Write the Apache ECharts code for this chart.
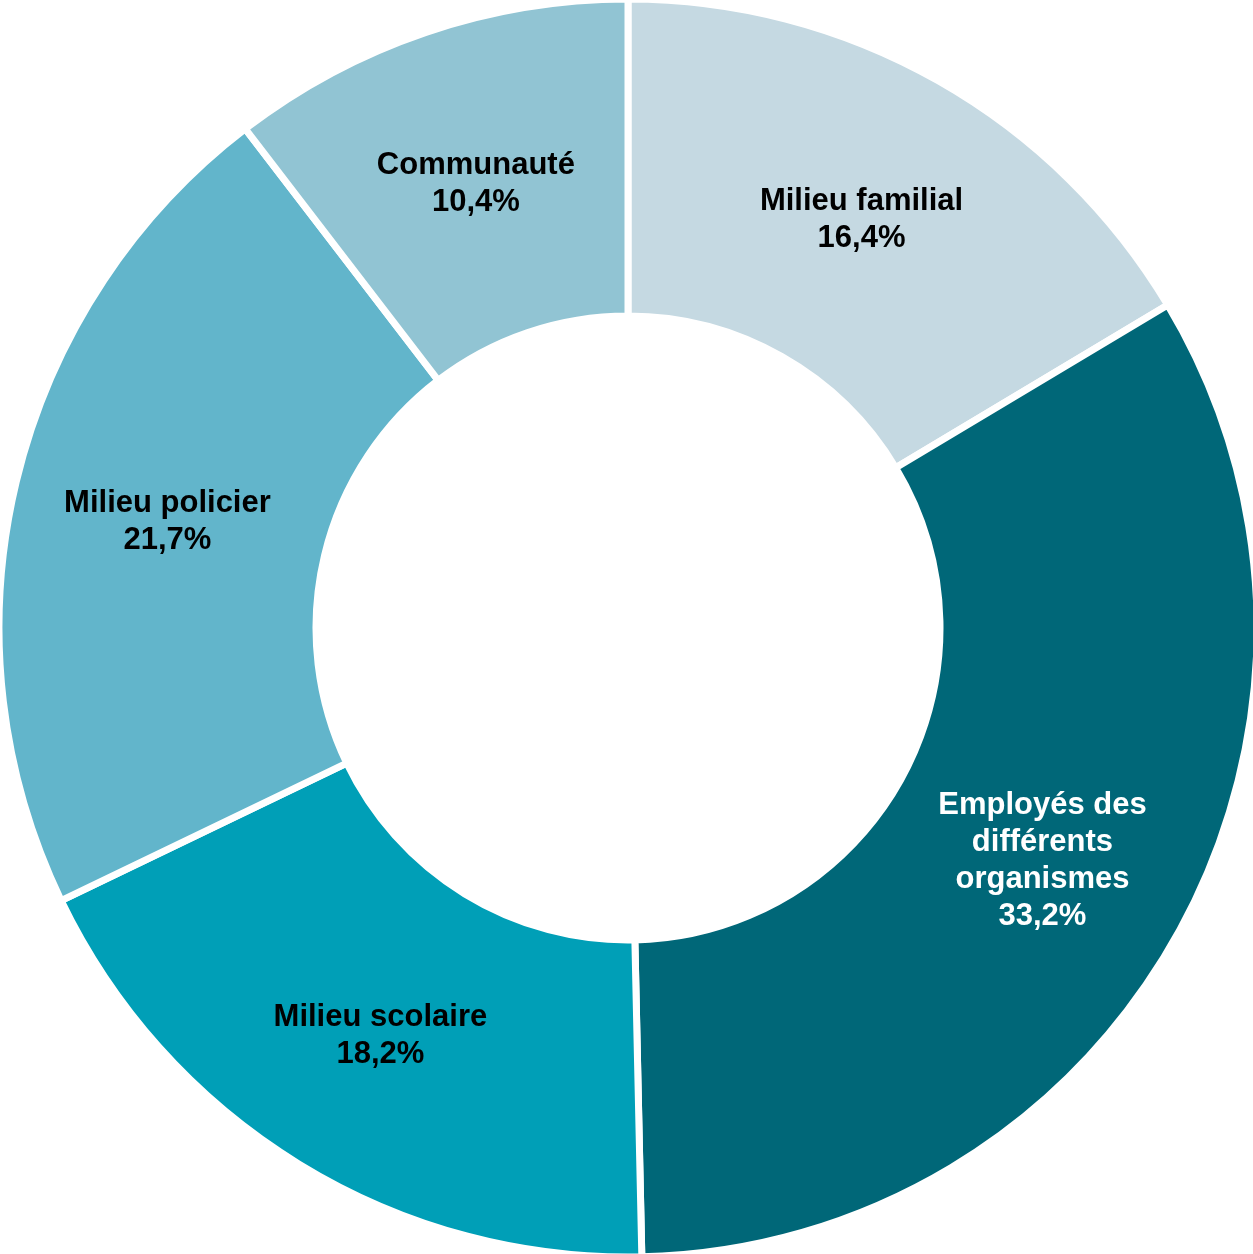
<!DOCTYPE html>
<html>
<head>
<meta charset="utf-8">
<script src="https://cdn.jsdelivr.net/npm/echarts@6/dist/echarts.min.js"></script>
<style>
html, body { margin: 0; padding: 0; background: #fff; }
#main { width: 1253px; height: 1254px; }
</style>
</head>
<body>
<div id="main"></div>
<script>
var categories = ['Milieu familial', 'Employés des\ndifférents\norganismes', 'Milieu scolaire', 'Milieu policier', 'Communauté'];
var values = [16.4, 33.2, 18.2, 21.7, 10.4];
var colors = ['#C5D9E2', '#006778', '#009FB7', '#62B5CB', '#91C4D3'];
var labelColors = ['#000', '#fff', '#000', '#000', '#000'];

var dom = document.getElementById("main");
var myChart = echarts.init(dom);

var pieData = categories.map(function (name, i) {
    return {
        name: name,
        value: values[i],
        itemStyle: { color: colors[i] },
        label: { color: labelColors[i] }
    };
});

var option = {
    animation: false,
    series: [
        {
            type: 'pie',
            center: [628, 628],
            radius: [312, 629],
            startAngle: 90,
            clockwise: true,
            avoidLabelOverlap: false,
            itemStyle: { borderColor: '#fff', borderWidth: 7 },
            label: {
                show: true,
                position: 'inside',
                offset: [0, 4],
                fontFamily: 'Liberation Sans, Arial, sans-serif',
                fontWeight: 'bold',
                fontSize: 31,
                lineHeight: 37,
                align: 'center',
                formatter: function (p) {
                    return p.name + '\n' + p.value.toFixed(1).replace('.', ',') + '%';
                }
            },
            labelLine: { show: false },
            data: pieData
        }
    ]
};
myChart.setOption(option, true);
</script>
</body>
</html>
